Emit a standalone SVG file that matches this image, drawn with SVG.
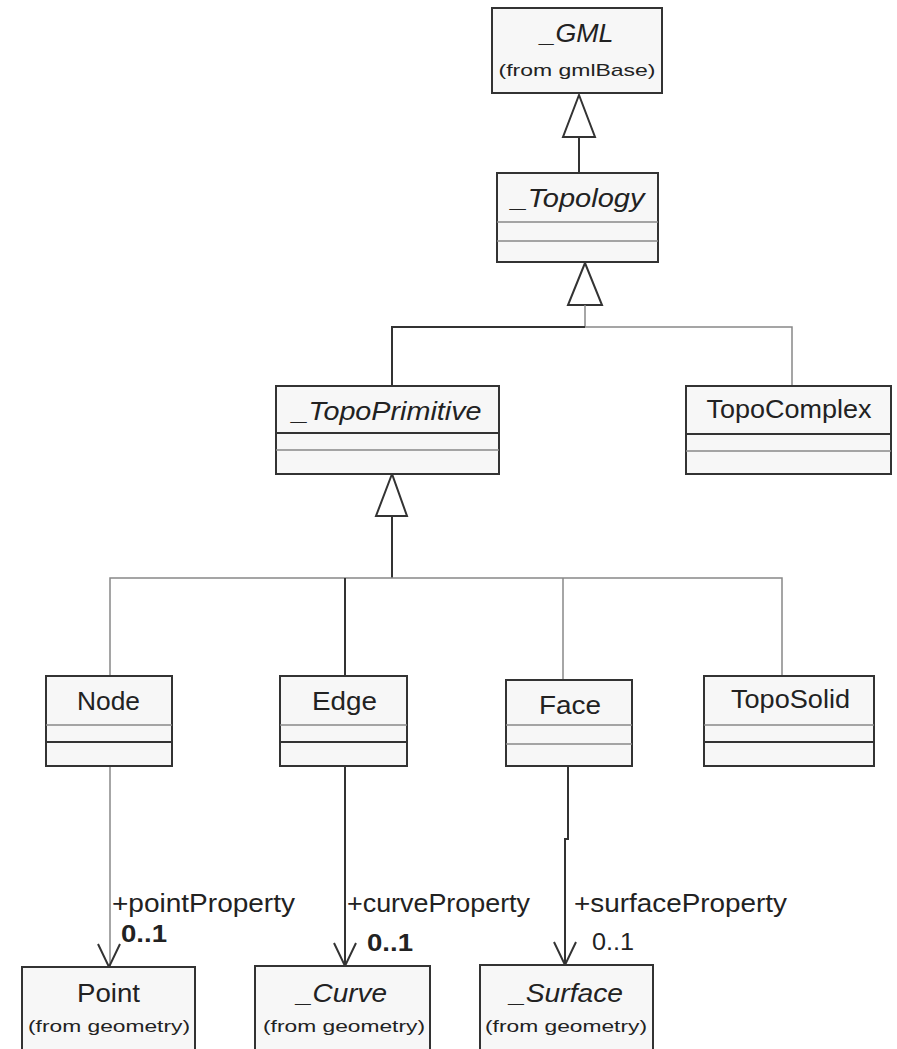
<svg xmlns="http://www.w3.org/2000/svg" width="897" height="1049" viewBox="0 0 897 1049">
<style>
  .box { fill: #f7f7f7; stroke: #333; stroke-width: 2; }
  .dk { stroke: #333; stroke-width: 2; fill: none; }
  .lt { stroke: #888; stroke-width: 1.5; fill: none; }
  .tri { fill: #fff; stroke: #333; stroke-width: 2; stroke-linejoin: miter; }
  text { font-family: "Liberation Sans", Arial, sans-serif; fill: #222; }
  .name { font-size: 26px; text-anchor: middle; }
  .it { font-style: italic; }
  .from { font-size: 17px; text-anchor: middle; }
  .role { font-size: 26px; }
  .mult { font-size: 23px; }
  .b { font-weight: bold; }
</style>
<rect width="897" height="1049" fill="#fff"/>

<g id="connectors">
  <line class="dk" x1="579" y1="137" x2="579" y2="173"/>
  <polygon class="tri" points="579,95 563,137 595,137"/>
  <polygon class="tri" points="585,263 568,305 602,305"/>
  <line class="lt" x1="585" y1="305" x2="585" y2="327"/>
  <polyline class="dk" points="392,386 392,327 585,327"/>
  <polyline class="lt" points="585,327 792,327 792,386"/>
  <polygon class="tri" points="392,474 376,516 407,516"/>
  <line class="dk" x1="392" y1="516" x2="392" y2="578"/>
  <polyline class="lt" points="110,676 110,578 782,578 782,676"/>
  <line class="dk" x1="345" y1="578" x2="345" y2="676"/>
  <line class="lt" x1="563" y1="578" x2="563" y2="680"/>
  <line class="lt" x1="110" y1="766" x2="110" y2="967"/>
  <polyline class="dk" points="98,944 109,967 120,944"/>
  <line class="dk" x1="345" y1="766" x2="345" y2="966"/>
  <polyline class="dk" points="334,943 345,966 356,943"/>
  <polyline class="dk" points="568,765 568,839 565,839 565,965"/>
  <polyline class="dk" points="554,942 565,965 576,942"/>
  <text class="role" x="112" y="912" textLength="183" lengthAdjust="spacingAndGlyphs">+pointProperty</text>
  <text class="mult b" x="121" y="942" textLength="46" lengthAdjust="spacingAndGlyphs">0..1</text>
  <text class="role" x="347" y="912" textLength="183" lengthAdjust="spacingAndGlyphs">+curveProperty</text>
  <text class="mult b" x="367" y="951" textLength="46" lengthAdjust="spacingAndGlyphs">0..1</text>
  <text class="role" x="574" y="912" textLength="213" lengthAdjust="spacingAndGlyphs">+surfaceProperty</text>
  <text class="mult" x="592" y="950" textLength="42" lengthAdjust="spacingAndGlyphs">0..1</text>
</g>

<g id="GML">
  <rect class="box" x="492" y="8" width="170" height="85"/>
  <text class="name it" x="577" y="42" font-size="24" textLength="73" lengthAdjust="spacingAndGlyphs">_GML</text>
  <text class="from" x="577" y="76" font-size="16" textLength="157" lengthAdjust="spacingAndGlyphs">(from gmlBase)</text>
</g>

<g id="Topology">
  <rect class="box" x="497" y="173" width="161" height="89"/>
  <line class="lt" x1="497" y1="222" x2="658" y2="222"/>
  <line class="lt" x1="497" y1="241" x2="658" y2="241"/>
  <text class="name it" x="578" y="207" textLength="133" lengthAdjust="spacingAndGlyphs">_Topology</text>
</g>

<g id="TopoPrimitive">
  <rect class="box" x="276" y="386" width="223" height="88"/>
  <line class="dk" x1="276" y1="433" x2="499" y2="433"/>
  <line class="lt" x1="276" y1="450" x2="499" y2="450"/>
  <text class="name it" x="387" y="420" textLength="189" lengthAdjust="spacingAndGlyphs">_TopoPrimitive</text>
</g>

<g id="TopoComplex">
  <rect class="box" x="686" y="386" width="205" height="88"/>
  <line class="dk" x1="686" y1="434" x2="891" y2="434"/>
  <line class="lt" x1="686" y1="451" x2="891" y2="451"/>
  <text class="name" x="789" y="418" textLength="165" lengthAdjust="spacingAndGlyphs">TopoComplex</text>
</g>

<g id="Node">
  <rect class="box" x="46" y="676" width="126" height="90"/>
  <line class="lt" x1="46" y1="725" x2="172" y2="725"/>
  <line class="dk" x1="46" y1="742" x2="172" y2="742"/>
  <text class="name" x="108.5" y="710" textLength="63" lengthAdjust="spacingAndGlyphs">Node</text>
</g>

<g id="Edge">
  <rect class="box" x="280" y="676" width="127" height="90"/>
  <line class="lt" x1="280" y1="725" x2="407" y2="725"/>
  <line class="dk" x1="280" y1="742" x2="407" y2="742"/>
  <text class="name" x="344.5" y="710" textLength="65" lengthAdjust="spacingAndGlyphs">Edge</text>
</g>

<g id="Face">
  <rect class="box" x="506" y="680" width="126" height="86"/>
  <line class="lt" x1="506" y1="725" x2="632" y2="725"/>
  <line class="lt" x1="506" y1="744" x2="632" y2="744"/>
  <text class="name" x="570" y="714" textLength="62" lengthAdjust="spacingAndGlyphs">Face</text>
</g>

<g id="TopoSolid">
  <rect class="box" x="704" y="676" width="170" height="90"/>
  <line class="lt" x1="704" y1="725" x2="874" y2="725"/>
  <line class="dk" x1="704" y1="742" x2="874" y2="742"/>
  <text class="name" x="790.5" y="708" textLength="119" lengthAdjust="spacingAndGlyphs">TopoSolid</text>
</g>

<g id="Point">
  <rect class="box" x="22" y="967" width="173" height="100"/>
  <text class="name" x="108.5" y="1002" textLength="63" lengthAdjust="spacingAndGlyphs">Point</text>
  <text class="from" x="109" y="1032" textLength="162" lengthAdjust="spacingAndGlyphs">(from geometry)</text>
</g>

<g id="Curve">
  <rect class="box" x="255" y="966" width="175" height="100"/>
  <text class="name it" x="342" y="1002" textLength="90" lengthAdjust="spacingAndGlyphs">_Curve</text>
  <text class="from" x="344" y="1032" textLength="162" lengthAdjust="spacingAndGlyphs">(from geometry)</text>
</g>

<g id="Surface">
  <rect class="box" x="480" y="965" width="173" height="100"/>
  <text class="name it" x="566.5" y="1002" textLength="113" lengthAdjust="spacingAndGlyphs">_Surface</text>
  <text class="from" x="566" y="1032" textLength="162" lengthAdjust="spacingAndGlyphs">(from geometry)</text>
</g>
</svg>
